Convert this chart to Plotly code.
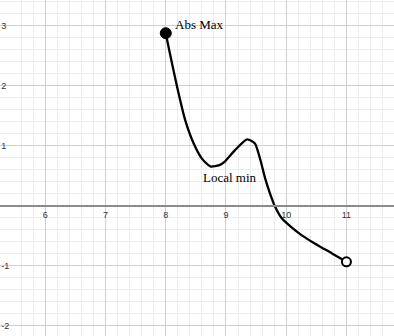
import plotly.graph_objects as go

# Curve points
curve_x = [8.0, 8.04, 8.18, 8.32, 8.46, 8.60, 8.74, 8.89, 8.98, 9.15, 9.35, 9.48, 9.57, 9.65, 9.73, 9.81, 9.93, 10.07, 10.26, 10.48, 10.76, 11.0]
curve_y = [2.88, 2.68, 2.02, 1.44, 1.05, 0.79, 0.66, 0.68, 0.74, 0.93, 1.11, 1.04, 0.77, 0.46, 0.21, 0.0, -0.21, -0.34, -0.49, -0.63, -0.79, -0.93]

max_pt = (8.0, 2.88)
end_pt = (11.0, -0.93)

x_ticks = [6, 7, 8, 9, 10, 11]
y_ticks = [-2, -1, 1, 2, 3]

labels = [
    {"text": "Abs Max", "x": 8.12, "y": 3.02},
    {"text": "Local min", "x": 8.59, "y": 0.48},
]

x_range = [5.247, 11.79]
y_range = [-2.167, 3.433]

fig = go.Figure()
fig.add_trace(go.Scatter(
    x=curve_x, y=curve_y, mode="lines",
    line=dict(color="black", width=2.3, shape="spline", smoothing=0.6),
    hoverinfo="skip", showlegend=False))
fig.add_trace(go.Scatter(
    x=[max_pt[0]], y=[max_pt[1]], mode="markers",
    marker=dict(size=11, color="black", line=dict(color="black", width=1)),
    showlegend=False))
fig.add_trace(go.Scatter(
    x=[end_pt[0]], y=[end_pt[1]], mode="markers",
    marker=dict(size=9, color="white", line=dict(color="black", width=2)),
    showlegend=False))

for lab in labels:
    fig.add_annotation(x=lab["x"], y=lab["y"], text=lab["text"], showarrow=False,
                       xanchor="left", yanchor="middle",
                       font=dict(family="Liberation Serif", size=13, color="black"))

y0_frac = (0 - y_range[0]) / (y_range[1] - y_range[0])

fig.update_layout(
    width=394, height=336,
    margin=dict(l=0, r=0, t=0, b=0),
    paper_bgcolor="white", plot_bgcolor="white",
    xaxis=dict(
        range=x_range, tickmode="array", tickvals=x_ticks,
        ticktext=[str(v) for v in x_ticks],
        showgrid=True, gridcolor="#cfcfcf", gridwidth=1,
        minor=dict(tickmode="linear", tick0=0, dtick=0.2, showgrid=True, gridcolor="#ececec", gridwidth=1),
        zeroline=False,
        anchor="free", position=y0_frac,
        showline=True, linecolor="#8a8a8a", linewidth=1.5,
        ticks="", ticklabelposition="outside",
        tickfont=dict(family="Liberation Sans", size=9, color="#333333"),
    ),
    yaxis=dict(
        range=y_range, tickmode="array", tickvals=y_ticks,
        ticktext=[str(v) for v in y_ticks],
        showgrid=True, gridcolor="#cfcfcf", gridwidth=1,
        minor=dict(tickmode="linear", tick0=0, dtick=0.2, showgrid=True, gridcolor="#ececec", gridwidth=1),
        zeroline=False,
        showline=True, linecolor="#dddddd", linewidth=3,
        ticks="", ticklabelposition="inside",
        tickfont=dict(family="Liberation Sans", size=9, color="#333333"),
    ),
)

fig.write_html("out.html")
